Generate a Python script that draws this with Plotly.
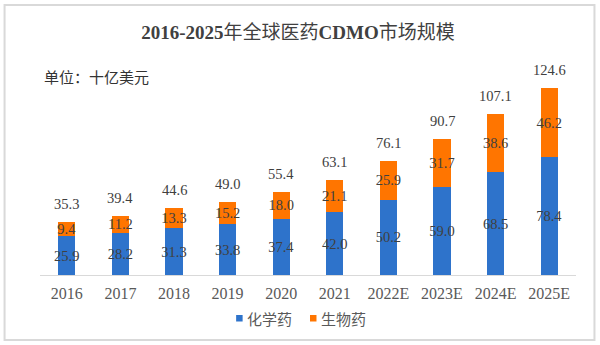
import plotly.graph_objects as go

years = ["2016", "2017", "2018", "2019", "2020", "2021", "2022E", "2023E", "2024E", "2025E"]
chem = [25.9, 28.2, 31.3, 33.8, 37.4, 42.0, 50.2, 59.0, 68.5, 78.4]
bio = [9.4, 11.2, 13.3, 15.2, 18.0, 21.1, 25.9, 31.7, 38.6, 46.2]
total = [35.3, 39.4, 44.6, 49.0, 55.4, 63.1, 76.1, 90.7, 107.1, 124.6]
series_names = ["化学药", "生物药"]

BLUE = "#2E73CB"
ORANGE = "#FF7500"
NUM_FONT = "Liberation Serif, Times New Roman, serif"
CJK_FONT = "Noto Sans CJK SC, sans-serif"

# plot-area geometry (pixels) used to place overlay items in paper units
W, H = 600, 345
L, R, T, B = 39.5, 23.5, 55, 70
PW, PH = W - L - R, H - T - B


def px_x(p):
    return (p - L) / PW


def px_y(p):
    return (H - B - p) / PH


fig = go.Figure()
label_font = dict(family=NUM_FONT, size=14.5, color="#404040")
for name, vals, col in [(series_names[0], chem, BLUE), (series_names[1], bio, ORANGE)]:
    fig.add_trace(go.Bar(
        x=years, y=vals, name=name, marker=dict(color=col, line=dict(width=0)),
        text=[f"{v:.1f}" for v in vals], textposition="inside", insidetextanchor="middle",
        textangle=0, constraintext="none", textfont=label_font, width=0.32,
        showlegend=False,
    ))

# totals above each stack (category index positions)
for i, t in enumerate(total):
    fig.add_annotation(x=i, y=t, text=f"{t:.1f}", showarrow=False,
                       yanchor="middle", yshift=18, font=label_font)

fig.add_annotation(xref="paper", yref="paper", x=px_x(42), y=px_y(76),
                   xanchor="left", yanchor="middle", showarrow=False,
                   text="单位：十亿美元", font=dict(family=CJK_FONT, size=15, color="#333333"))

# legend: small squares followed by the series names
for name, col, sx in [(series_names[0], BLUE, 236), (series_names[1], ORANGE, 310)]:
    fig.add_shape(type="rect", xref="paper", yref="paper",
                  x0=px_x(sx), x1=px_x(sx + 6.5), y0=px_y(321.5), y1=px_y(315),
                  line=dict(width=0), fillcolor=col)
    fig.add_annotation(xref="paper", yref="paper", x=px_x(sx + 9), y=px_y(318),
                       xanchor="left", yanchor="middle", showarrow=False,
                       text=name, font=dict(family=CJK_FONT, size=15, color="#595959"))

# outer frame
fig.add_shape(type="rect", xref="paper", yref="paper",
              x0=px_x(4), x1=px_x(595), y0=px_y(340), y1=px_y(5),
              line=dict(color="#D9D9D9", width=2), fillcolor="rgba(0,0,0,0)", layer="below")

fig.update_layout(
    width=W, height=H, autosize=False,
    margin=dict(l=L, r=R, t=T, b=B, pad=0),
    paper_bgcolor="white", plot_bgcolor="white",
    barmode="stack", showlegend=False,
    title=dict(text="<b>2016-2025</b>年全球医药<b>CDMO</b>市场规模",
               x=298 / W, xref="container", xanchor="center",
               y=1 - 32 / H, yref="container", yanchor="middle",
               font=dict(family="Liberation Serif, Noto Sans CJK SC, serif", size=19, color="#404040")),
    xaxis=dict(type="category", categoryorder="array", categoryarray=years,
               range=[-0.5, len(years) - 0.5],
               showline=True, linecolor="#D9D9D9", linewidth=1, ticks="",
               ticklabelstandoff=4,
               tickfont=dict(family=NUM_FONT, size=16, color="#595959"),
               showgrid=False, zeroline=False),
    yaxis=dict(visible=False, range=[0, PH / 1.5], showgrid=False, zeroline=False),
)

fig.write_html("out.html")
